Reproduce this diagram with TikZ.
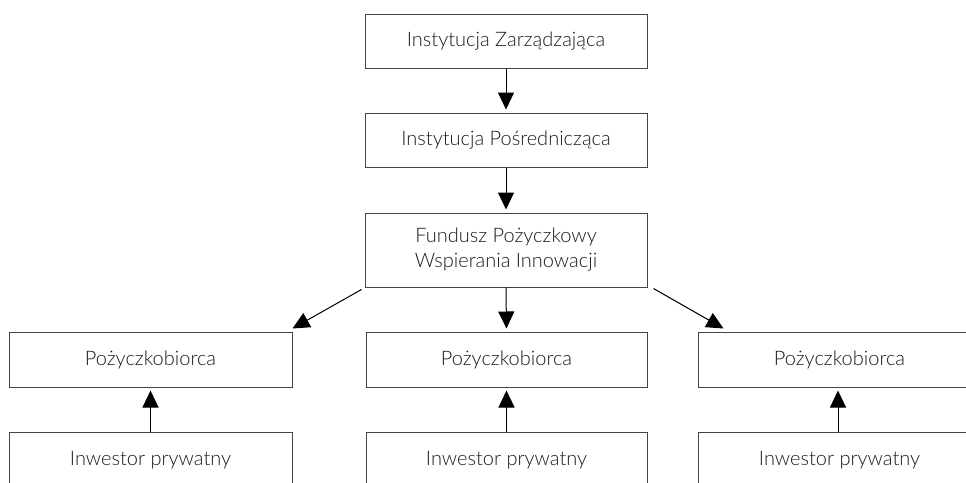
\documentclass[tikz,border=0pt]{standalone}
\usepackage{fontspec}
\setmainfont{Lato Light}
\usetikzlibrary{arrows.meta,calc}
\definecolor{txt}{HTML}{1A1A1A}
\definecolor{edge}{HTML}{444444}
\tikzset{
  box/.style={draw=edge, line width=1pt, minimum width=282pt, minimum height=54pt, inner sep=0pt, text=txt, font=\fontsize{20}{25}\selectfont, align=center},
  conn/.style={draw=black, line width=1pt, -{Triangle[length=17pt,width=16pt]}, shorten >=3pt}
}
\begin{document}
\begin{tikzpicture}[x=1pt,y=-1pt]
\useasboundingbox (0,0) rectangle (966,482);
\clip (0,0) rectangle (966,482);
\node[box] (zarz) at (506,41) {Instytucja Zarządzająca};
\node[box] (posr) at (506,140) {Instytucja Pośrednicząca};
\node[box, minimum height=74pt] (fund) at (506,250) {Fundusz Pożyczkowy\\Wspierania Innowacji};
\node[box, minimum width=283pt, minimum height=55pt] (bl) at (150.5,359.5) {Pożyczkobiorca};
\node[box, minimum width=281pt, minimum height=55pt] (bm) at (506.5,359.5) {Pożyczkobiorca};
\node[box, minimum width=283pt, minimum height=55pt] (br) at (839.5,359.5) {Pożyczkobiorca};
\node[box, minimum width=283pt, minimum height=56pt] (il) at (150.5,460) {Inwestor prywatny};
\node[box, minimum width=281pt, minimum height=56pt] (im) at (506.5,460) {Inwestor prywatny};
\node[box, minimum width=283pt, minimum height=56pt] (ir) at (839.5,460) {Inwestor prywatny};
\coordinate (dls) at ($(fund.south west)+(-3,2)$);
\coordinate (dlt) at ($(bl.north east)+(0,-3)$);
\coordinate (drs) at ($(fund.south east)+(6,1)$);
\coordinate (drt) at ($(br.north west)+(26,-3)$);
\draw[conn] (zarz.south) -- (posr.north);
\draw[conn] (posr.south) -- (fund.north);
\draw[conn] (fund.south) -- (bm.north);
\draw[conn, shorten >=0pt] (dls) -- (dlt);
\draw[conn, shorten >=0pt] (drs) -- (drt);
\draw[conn] (il.north) -- (bl.south);
\draw[conn] (im.north) -- (bm.south);
\draw[conn] (ir.north -| 838,0) -- (br.south -| 838,0);
\end{tikzpicture}
\end{document}
